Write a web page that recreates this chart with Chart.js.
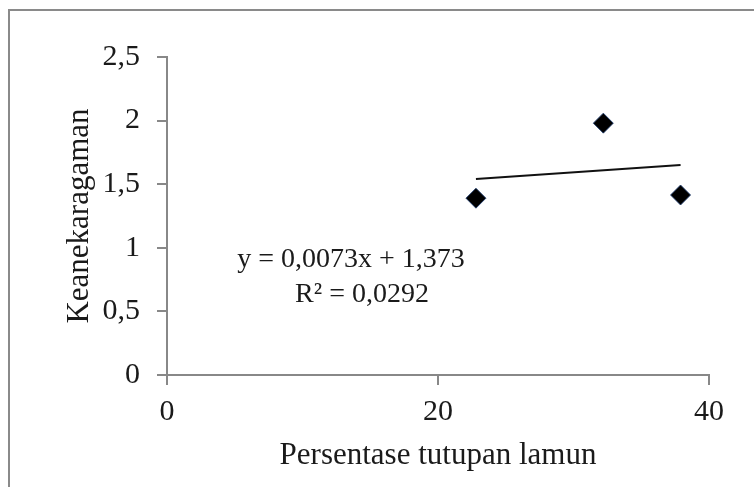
<!DOCTYPE html>
<html>
<head>
<meta charset="utf-8">
<script src="https://cdn.jsdelivr.net/npm/chart.js@4/dist/chart.umd.min.js"></script>
<style>
  html, body { margin: 0; padding: 0; background: #fff; overflow: hidden; }
  #frame { position: absolute; left: 8px; top: 9px; width: 800px; height: 560px; border: 2px solid #8a8a8a; }
  #wrap { position: absolute; left: 0; top: 0; width: 754px; height: 487px; }
</style>
</head>
<body>
<div id="frame"></div>
<div id="wrap"><canvas id="lamun-chart" width="754" height="487"></canvas></div>
<script>
// data
const tutupan = [22.8, 32.2, 37.9];
const keanekaragaman = [1.39, 1.98, 1.415];
const trendX = [22.8, 37.9];
const trendY = [1.54, 1.65];
const equationLines = ['y = 0,0073x + 1,373', 'R² = 0,0292'];
const xTitle = 'Persentase tutupan lamun';
const yTitle = 'Keanekaragaman';

const serif = 'Liberation Serif, Times New Roman, serif';
const axisGray = '#888888';
const textColor = '#1a1a1a';

const comma = (v) => String(v).replace('.', ',');

// draws the trendline label like Excel does
const equationLabel = {
  id: 'equationLabel',
  afterDraw(chart) {
    const ctx = chart.ctx;
    ctx.save();
    ctx.fillStyle = textColor;
    ctx.font = '28px ' + serif;
    ctx.textAlign = 'center';
    ctx.textBaseline = 'middle';
    ctx.fillText(equationLines[0], 351, 260);
    ctx.fillText(equationLines[1], 362, 295);
    ctx.restore();
  }
};

const ctx = document.getElementById('lamun-chart').getContext('2d');

new Chart(ctx, {
  data: {
    datasets: [
      {
        type: 'scatter',
        data: tutupan.map((x, i) => ({ x: x, y: keanekaragaman[i] })),
        pointStyle: 'rectRot',
        pointRadius: 10,
        pointHoverRadius: 10,
        backgroundColor: '#000000',
        borderColor: 'rgba(30,60,110,0.85)',
        borderWidth: 1,
        order: 1,
      },
      {
        type: 'line',
        data: trendX.map((x, i) => ({ x: x, y: trendY[i] })),
        borderColor: '#111111',
        borderWidth: 2,
        pointRadius: 0,
        fill: false,
        order: 2,
      },
    ],
  },
  options: {
    responsive: false,
    animation: false,
    events: [],
    layout: {
      padding: { top: 57, right: 45, left: 0, bottom: 0 },
    },
    plugins: {
      legend: { display: false },
      tooltip: { enabled: false },
    },
    scales: {
      x: {
        type: 'linear',
        min: 0,
        max: 40,
        afterFit: (scale) => { scale.height = 112; },
        border: { color: axisGray, width: 2 },
        grid: { drawOnChartArea: false, drawTicks: true, tickLength: 10, color: axisGray, lineWidth: 2 },
        ticks: {
          stepSize: 20,
          padding: 9,
          color: textColor,
          font: { family: serif, size: 30 },
          maxRotation: 0,
          callback: comma,
        },
        title: {
          display: true,
          text: xTitle,
          color: textColor,
          font: { family: serif, size: 31 },
          padding: { top: 0, bottom: 13 },
        },
      },
      y: {
        type: 'linear',
        min: 0,
        max: 2.5,
        afterFit: (scale) => { scale.width = 167; },
        border: { color: axisGray, width: 2 },
        grid: { drawOnChartArea: false, drawTicks: true, tickLength: 10, color: axisGray, lineWidth: 2 },
        ticks: {
          stepSize: 0.5,
          padding: 17,
          color: textColor,
          font: { family: serif, size: 30 },
          callback: comma,
        },
        title: {
          display: true,
          text: yTitle,
          color: textColor,
          font: { family: serif, size: 31 },
          padding: { top: 61, bottom: 0 },
        },
      },
    },
  },
  plugins: [equationLabel],
});
</script>
</body>
</html>
